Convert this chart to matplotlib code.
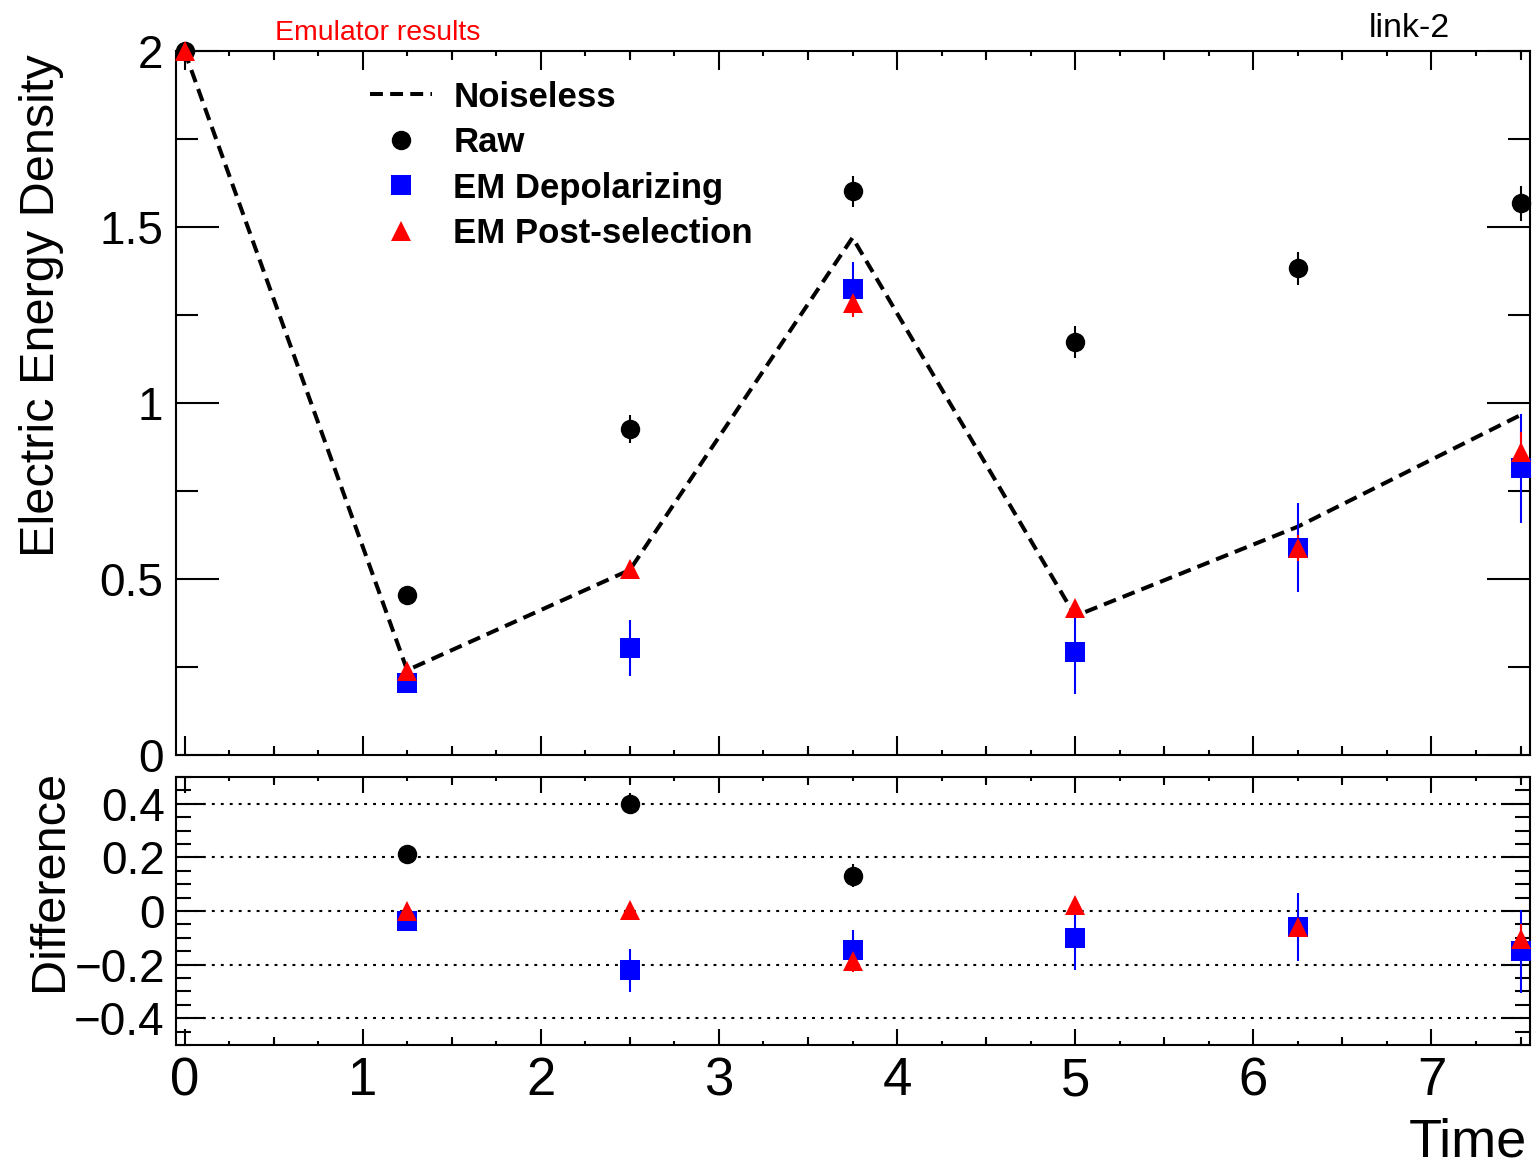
#!/usr/bin/env python3
"""Electric energy density on link-2: noiseless vs raw and error-mitigated emulator runs."""

import matplotlib

matplotlib.use("Agg")
import matplotlib.pyplot as plt
from matplotlib.lines import Line2D
from matplotlib.ticker import FuncFormatter, MultipleLocator
import numpy as np

time = [0.0, 1.25, 2.5, 3.75, 5.0, 6.25, 7.5]
noiseless = [2.0, 0.241, 0.526, 1.470, 0.395, 0.649, 0.966]
raw = [2.0, 0.455, 0.926, 1.602, 1.173, 1.383, 1.568]
raw_err = [0.02, 0.025, 0.04, 0.044, 0.045, 0.047, 0.05]
depol = [np.nan, 0.205, 0.304, 1.324, 0.293, 0.589, 0.815]
depol_err = [0.0, 0.03, 0.08, 0.076, 0.12, 0.127, 0.155]
post = [2.0, 0.240, 0.530, 1.284, 0.418, 0.588, 0.861]
post_err = [0.0, 0.02, 0.02, 0.04, 0.02, 0.038, 0.057]

labels = ["Noiseless", "Raw", "EM Depolarizing", "EM Post-selection"]

plt.rcParams["font.family"] = ["Liberation Sans", "DejaVu Sans"]
plt.rcParams["axes.linewidth"] = 1.5

fmt = FuncFormatter(lambda v, pos: f"{v:g}".replace("-", "\u2212"))
dash = (0, (3.2, 1.8))
series = [
    (raw, raw_err, "o", "black"),
    (depol, depol_err, "s", "blue"),
    (post, post_err, "^", "red"),
]


def medium_ticks(ax, length):
    # ROOT style: extra mid-length ticks at the half units
    for where in ("bottom", "top"):
        sec = ax.secondary_xaxis(where)
        sec.set_xticks(np.arange(0.5, 8, 1.0))
        sec.tick_params(direction="in", length=length, width=1.5,
                        labelbottom=False, labeltop=False)
        for sp in sec.spines.values():
            sp.set_visible(False)


fig = plt.figure(figsize=(15.34, 11.69), dpi=100)
ax = fig.add_axes([0.1147, 0.3541, 0.8827, 0.6022])
axd = fig.add_axes([0.1147, 0.1061, 0.8827, 0.2293])

# top panel
ax.plot(time, noiseless, color="black", lw=2.9, linestyle=dash, zorder=2)
for vals, errs, m, c in series:
    ax.errorbar(time, vals, yerr=errs, fmt=m, color=c, ms=14, mew=0,
                elinewidth=1.5, capsize=0, clip_on=False, zorder=3)

ax.set_xlim(-0.048, 7.553)
ax.set_ylim(0, 2)
ax.yaxis.set_major_locator(MultipleLocator(0.5))
ax.yaxis.set_minor_locator(MultipleLocator(0.25))
ax.xaxis.set_major_locator(MultipleLocator(1))
ax.xaxis.set_minor_locator(MultipleLocator(0.25))
ax.yaxis.set_major_formatter(fmt)
ax.tick_params(which="both", direction="in", top=True, right=True, width=1.5,
               labelbottom=False)
ax.tick_params(axis="y", which="major", length=31, labelsize=33, pad=9)
ax.tick_params(axis="y", which="minor", length=16)
ax.tick_params(axis="x", which="major", length=14)
ax.tick_params(axis="x", which="minor", length=3.5)
medium_ticks(ax, 6.5)

ax.set_ylabel("Electric Energy Density", fontsize=35, loc="top")
ax.yaxis.set_label_coords(-0.083, 0.996)

handles = [
    Line2D([], [], color="black", lw=2.9, linestyle=dash),
    Line2D([], [], color="black", marker="o", ms=14, mew=0, ls="none"),
    Line2D([], [], color="blue", marker="s", ms=14, mew=0, ls="none"),
    Line2D([], [], color="red", marker="^", ms=14, mew=0, ls="none"),
]
ax.legend(handles, labels, loc="upper left", bbox_to_anchor=(0.1433, 0.958),
          frameon=False, prop={"weight": "bold", "size": 25},
          handlelength=1.8, handletextpad=0.6, labelspacing=0.36,
          borderpad=0, borderaxespad=0)

fig.text(0.246, 0.972, "Emulator results", color="red", fontsize=20.5,
         ha="center", va="center")
fig.text(0.9185, 0.976, "link-2", color="black", fontsize=24.5,
         ha="center", va="center")

# difference panel (points after t = 0)
t_d = time[1:]
for vals, errs, m, c in series:
    diff = np.array(vals[1:]) - np.array(noiseless[1:])
    axd.errorbar(t_d, diff, yerr=errs[1:], fmt=m, color=c, ms=14, mew=0,
                 elinewidth=1.5, capsize=0, zorder=3)

axd.set_xlim(-0.048, 7.553)
axd.set_ylim(-0.5, 0.5)
axd.yaxis.set_major_locator(MultipleLocator(0.2))
axd.yaxis.set_minor_locator(MultipleLocator(0.05))
axd.xaxis.set_major_locator(MultipleLocator(1))
axd.xaxis.set_minor_locator(MultipleLocator(0.25))
axd.xaxis.set_major_formatter(fmt)
axd.yaxis.set_major_formatter(fmt)
axd.grid(axis="y", which="major", color="black", lw=1.5,
         linestyle=(0, (1.4, 2.9)))
axd.tick_params(which="both", direction="in", top=True, right=True, width=1.5)
axd.tick_params(axis="y", which="major", length=21, labelsize=33, pad=8)
axd.tick_params(axis="y", which="minor", length=11)
axd.tick_params(axis="x", which="major", length=11.5, labelsize=38, pad=8)
axd.tick_params(axis="x", which="minor", length=3)
medium_ticks(axd, 5.5)

axd.set_ylabel("Difference", fontsize=35, loc="top")
axd.yaxis.set_label_coords(-0.077, 1.025)
axd.set_xlabel("Time", fontsize=39, loc="right")
axd.xaxis.set_label_coords(0.998, -0.27)

fig.savefig("out.png", dpi=100)
